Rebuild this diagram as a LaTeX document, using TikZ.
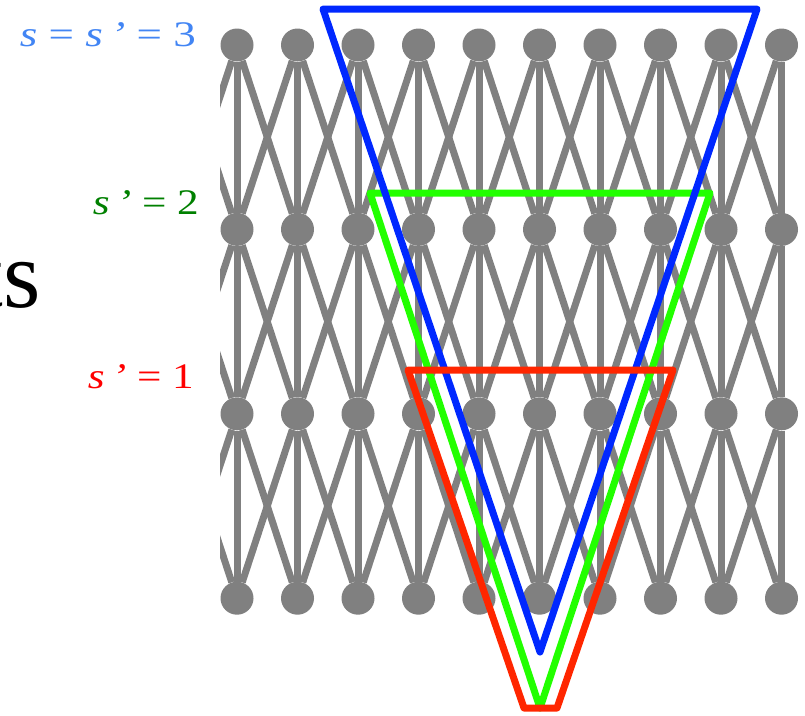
\documentclass[tikz,border=0pt]{standalone}
\usepackage{fontspec}
\setmainfont{Liberation Serif}

\definecolor{lineblue}{RGB}{0,40,255}
\definecolor{linegreen}{RGB}{34,255,0}
\definecolor{linered}{RGB}{255,38,0}
\definecolor{labblue}{RGB}{66,133,244}
\definecolor{labgreen}{RGB}{0,128,0}
\definecolor{labred}{RGB}{255,0,0}

\newcommand{\lab}[2]{\resizebox{#1}{\height}{#2}}

\tikzset{
    gnode/.style={circle, fill=gray, inner sep=0pt, minimum size=33pt},
    glink/.style={draw=gray, line width=7pt},
    tri/.style={line width=7pt, line join=round},
    lbl/.style={inner sep=0pt, anchor=base east, font=\fontsize{36}{36}\selectfont}
}

\begin{document}
\begin{tikzpicture}[x=1pt, y=-1pt]
        \useasboundingbox (0,0) rectangle (805,715);
        \begin{scope}
            \clip (220,0) rectangle (805,715);
            \foreach \r in {0,...,3}
                \foreach \c in {0,...,10}
                    \node[gnode] (n\r-\c) at ({176.5+60.5*\c},{45+184.4*\r}) {};
            \foreach \r/\s in {0/1,1/2,2/3} {
                \foreach \c in {0,...,10}
                    \draw[glink] (n\r-\c) -- (n\s-\c);
                \foreach \c [evaluate=\c as \d using int(\c+1)] in {0,...,9} {
                    \draw[glink] (n\r-\c) -- (n\s-\d);
                    \draw[glink] (n\r-\d) -- (n\s-\c);
                }
            }
        \end{scope}
        \draw[tri, color=linegreen] (370,193) -- (710,193) -- (540,708) -- cycle;
        \draw[tri, color=lineblue] (323,9) -- (757,9) -- (540,652) -- cycle;
        \draw[tri, color=linered] (408,370) -- (673,370) -- (557,708) -- (524,708) -- cycle;
        \node[lbl, color=labblue] (lab3) at (196,46) {\lab{176pt}{\textit{s} = \textit{s\,’} = 3}};
        \node[lbl, color=labgreen] (lab2) at (199,214) {\lab{106pt}{\textit{s\,’} = 2}};
        \node[lbl, color=labred] (lab1) at (194,388) {\lab{106pt}{\textit{s\,’} = 1}};
        \node[inner sep=0pt, anchor=base east, font=\fontsize{96}{96}\selectfont] (cut) at (41,307) {ts};
    \end{tikzpicture}
\end{document}
